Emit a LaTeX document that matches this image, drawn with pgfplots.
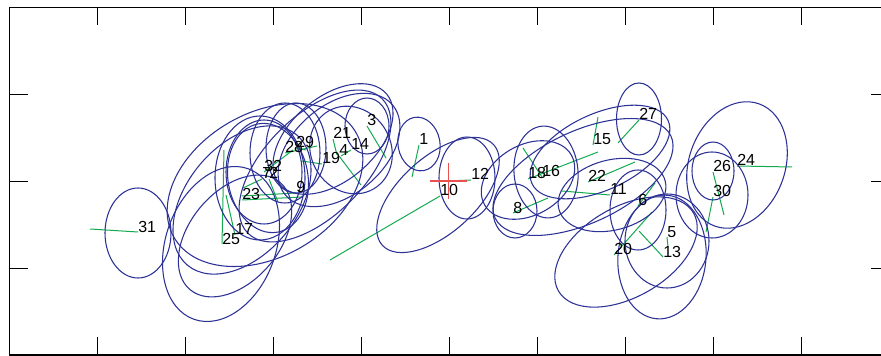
\documentclass[border=0pt]{standalone}
\usepackage{fontspec}
\setmainfont{Liberation Sans}
\usepackage{pgfplots}
\usepackage{pgfplotstable}
\pgfplotsset{compat=1.18}
\definecolor{ellcol}{RGB}{45,50,150}
\definecolor{vecgreen}{RGB}{20,170,80}
\definecolor{crossred}{RGB}{235,80,80}

% ex ey : ellipse centre (px), rx ry : radii (px), rot : rotation (deg, ccw on screen)
% px py : labelled point, qx qy : end of the green segment
\pgfplotstableread{
lab ex ey rx ry rot px py qx qy
1 419 144 21 27 10 419 145 412 177
10 438 195 75 38 42 440 196 330 260
12 467 178 28 41 0 471 180 447 181
8 515 211 22 27 0 513 213 548 198
16 546 172 32 46 5 542 177 523 148
18 528 180 50 35 30 528 179 598 152
15 600 152 75 38 25 593 145 598 117
27 639 119 22.5 36 0 639 120 618 143
22 583 177 97 46 25 588 182 635 162
11 612 195 55 35 15 610 195 562 191
6 638 210 28 40 0 638 206 655 183
20 626 252 78 45 30 614 255 652 212
13 662 257 44 62 -5 663 257 639 231
5 667 241 42 47 0 667 237 668 247
30 712 195 36 43 0 713 197 706 232
26 713 171 21 29 0 713 172 724 215
24 737 165 65 48 70 737 166 792 167
31 138 233 33 45 0 138 232 90 229
25 221 244 80 55 70 222 244 224 150
17 235 236 70 45 50 235 235 226 195
23 242 200 85 55 50 242 200 302 197
7 260 178 45 62 0 262 179 243 188
2 268 178 40 55 10 269 179 278 202
32 264 172 38 52 0 264 172 293 150
9 265 185 105 72 30 296 193 242 196
28 285 153 35 50 0 285 153 317 146
29 296 148 30 45 0 296 148 306 150
19 315 166 95 50 45 322 164 302 161
21 333 139 70 42 40 333 139 337 155
4 339 150 70 45 40 339 156 361 185
14 351 150 40 45 30 351 150 341 156
3 367 126 22 28 0 367 126 386 158
}\pts

\begin{document}
\begin{tikzpicture}
\begin{axis}[
  name=ax,
  x=0.75pt, y=0.75pt, y dir=reverse,
  xmin=9.5, xmax=889, ymin=7.3, ymax=355,
  axis line style={line width=1.1pt, black},
  xtick={97.2,185.2,273.2,361.2,449.2,537.2,625.2,713.2,801.2},
  ytick={94.3,181.3,268.3},
  xticklabels={}, yticklabels={},
  tick align=inside, major tick length=13.5pt,
  tick style={line width=0.8pt, black},
  clip=false,
]
% error ellipses
\addplot[
  scatter, only marks, mark=*, mark size=0pt,
  mark options={draw=none, fill=none},
  visualization depends on={\thisrow{rx} \as \erx},
  visualization depends on={\thisrow{ry} \as \ery},
  visualization depends on={\thisrow{rot} \as \erot},
  scatter/@pre marker code/.code={%
    \pgfmathsetmacro\eang{\erot}%
    \pgfmathsetmacro\ea{0.75*\erx}%
    \pgfmathsetmacro\eb{0.75*\ery}%
    \pgfmathsetmacro\eax{\ea*cos(\eang)}%
    \pgfmathsetmacro\eay{\ea*sin(\eang)}%
    \pgfmathsetmacro\ebx{-\eb*sin(\eang)}%
    \pgfmathsetmacro\eby{\eb*cos(\eang)}%
    \pgfsetstrokecolor{ellcol}\pgfsetlinewidth{0.8pt}%
    \pgfpathellipse{\pgfpointorigin}{\pgfqpoint{\eax pt}{\eay pt}}{\pgfqpoint{\ebx pt}{\eby pt}}%
    \pgfusepath{stroke}%
  },
  scatter/@post marker code/.code={},
] table[x=ex, y=ey] {\pts};
% green vectors
\addplot[
  vecgreen, line width=0.75pt, no markers,
  quiver={u=\thisrow{qx}-\thisrow{px}, v=\thisrow{qy}-\thisrow{py}},
] table[x=px, y=py] {\pts};
% reference cross
\addplot[only marks, mark=+, mark size=13.6pt, crossred, mark options={line width=0.9pt}] coordinates {(448.5,181)};
% labels
\addplot[
  draw=none, no markers,
  nodes near coords, point meta=explicit symbolic,
  every node near coord/.append style={anchor=base west, inner sep=0pt, text=black,
    font=\fontsize{12}{12}\selectfont},
] table[x=px, y=py, meta=lab] {\pts};
\end{axis}
\pgfresetboundingbox
\path[use as bounding box] ([shift={(-7.125pt,-0.75pt)}]ax.south west) rectangle ([shift={(-6pt,5.475pt)}]ax.north east);
\end{tikzpicture}
\end{document}
